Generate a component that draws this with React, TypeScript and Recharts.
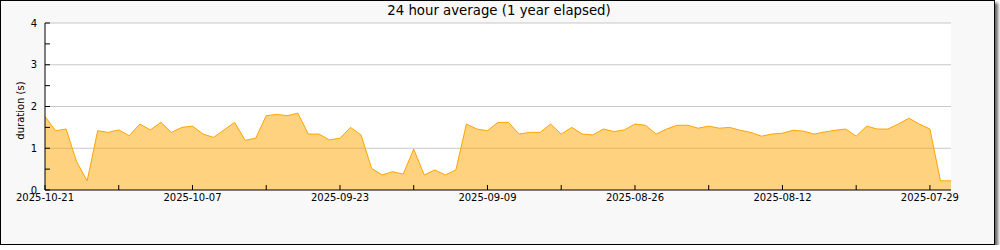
import { AreaChart, Area, XAxis, YAxis, CartesianGrid } from "recharts";

// one value per day, newest (2025-10-21) first
const durations = [
  1.76, 1.42, 1.46, 0.68, 0.22, 1.42, 1.38, 1.44, 1.30, 1.58,
  1.44, 1.62, 1.38, 1.50, 1.53, 1.34, 1.26, 1.44, 1.62, 1.19,
  1.24, 1.78, 1.81, 1.78, 1.84, 1.34, 1.34, 1.20, 1.24, 1.50,
  1.32, 0.52, 0.36, 0.44, 0.38, 0.98, 0.36, 0.48, 0.36, 0.48,
  1.58, 1.46, 1.42, 1.62, 1.62, 1.34, 1.38, 1.38, 1.58, 1.34,
  1.50, 1.34, 1.32, 1.46, 1.40, 1.44, 1.58, 1.55, 1.34, 1.46,
  1.55, 1.55, 1.48, 1.53, 1.48, 1.50, 1.43, 1.38, 1.29, 1.34,
  1.36, 1.43, 1.41, 1.34, 1.39, 1.43, 1.46, 1.29, 1.53, 1.46,
  1.46, 1.58, 1.72, 1.58, 1.46, 0.22, 0.22,
];

const dateLabels = [
  "2025-10-21", "2025-10-07", "2025-09-23", "2025-09-09",
  "2025-08-26", "2025-08-12", "2025-07-29",
];

const dayTicks = [0, 7, 14, 21, 28, 35, 42, 49, 56, 63, 70, 77, 84];
const yTicks = [0, 0.5, 1, 1.5, 2, 2.5, 3, 3.5, 4];
const gridValues = [1, 2, 3, 4];

const data = durations.map((value, day) => ({ day, value }));

const font = "'DejaVu Sans', sans-serif";

const YLabel = (props: any) => {
  const { viewBox } = props;
  if (!viewBox) return null;
  const x = viewBox.x + 19;
  const y = viewBox.y + viewBox.height / 2 + 4;
  return (
    <text
      x={x}
      y={y}
      transform={`rotate(-90 ${x} ${y})`}
      textAnchor="middle"
      dominantBaseline="central"
      fontFamily={font}
      fontSize={10}
      fill="#000"
    >
      duration (s)
    </text>
  );
};

export default function App() {
  return (
    <div style={{ margin: 0 }}>
      <style>{`body { margin: 0; }`}</style>
      <div
        style={{
          position: "relative",
          width: 995,
          height: 245,
          boxSizing: "border-box",
          border: "1px solid #000",
          background: "#f8f8f8",
          boxShadow: "3px 3px 3px #666",
        }}
      >
        <div
          style={{
            position: "absolute",
            left: 45,
            top: 3,
            width: 906,
            textAlign: "center",
            fontFamily: font,
            fontSize: 13.3,
            lineHeight: "13px",
            color: "#000",
          }}
        >
          24 hour average (1 year elapsed)
        </div>
        <AreaChart
          width={993}
          height={243}
          data={data}
          margin={{ top: 22, right: 43, bottom: 0, left: 0 }}
        >
          <CartesianGrid
            horizontal
            vertical={false}
            horizontalValues={gridValues}
            stroke="#c8c8c8"
            fill="#ffffff"
          />
          <XAxis
            dataKey="day"
            type="number"
            domain={[0, 86]}
            ticks={dayTicks}
            height={54}
            stroke="#000"
            tickSize={-5}
            tickMargin={9}
            tick={{ fontFamily: font, fontSize: 10, fill: "#000" }}
            tickFormatter={(v: number) => (v % 14 === 0 ? dateLabels[v / 14] : "")}
            interval={0}
          />
          <YAxis
            type="number"
            domain={[0, 4]}
            ticks={yTicks}
            width={44}
            stroke="#000"
            tickSize={-5}
            tickMargin={13}
            tick={{ fontFamily: font, fontSize: 10, fill: "#000" }}
            tickFormatter={(v: number) => (Number.isInteger(v) ? String(v) : "")}
            interval={0}
            label={<YLabel />}
          />
          <Area
            type="linear"
            dataKey="value"
            stroke="#ffa500"
            strokeWidth={1}
            fill="#ffa500"
            fillOpacity={0.5}
            isAnimationActive={false}
            dot={false}
            activeDot={false}
          />
        </AreaChart>
      </div>
    </div>
  );
}
